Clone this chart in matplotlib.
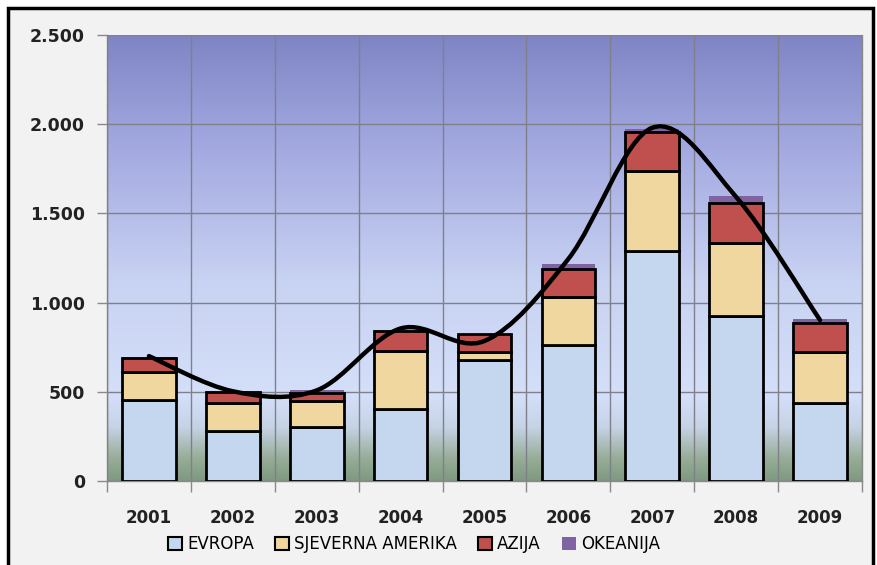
import numpy as np
import matplotlib
matplotlib.use('Agg')
import matplotlib.pyplot as plt
from matplotlib.patches import Rectangle, PathPatch
from matplotlib.path import Path
from matplotlib.colors import LinearSegmentedColormap
from matplotlib.ticker import FuncFormatter, MultipleLocator, FixedLocator

years = ['2001', '2002', '2003', '2004', '2005', '2006', '2007', '2008', '2009']
evropa = [455, 280, 303, 404, 678, 762, 1289, 925, 437]
sjeverna_amerika = [158, 157, 145, 325, 45, 269, 449, 409, 286]
azija = [77, 62, 45, 112, 101, 157, 218, 224, 163]
okeanija = [5, 6, 17, 6, -10, 28, 17, 40, 22]
trend = [700, 503, 508, 855, 785, 1245, 1980, 1592, 902]

series_names = ['EVROPA', 'SJEVERNA AMERIKA', 'AZIJA', 'OKEANIJA']
colors = ['#c5d6ef', '#f0d79f', '#c0504d', '#8064a2']

fig = plt.figure(figsize=(8.77, 5.65), dpi=100)
fig.patch.set_facecolor('white')

# outer frame of the pasted chart
frame = Rectangle((8/877, -0.01), 865/877, 1 - 8/565 + 0.01, transform=fig.transFigure,
                  facecolor='#f2f2f2', edgecolor='black', linewidth=2.5, zorder=-10)
fig.patches.append(frame)

ax = fig.add_axes([107/877, 1 - 481/565, 755/877, 446/565])
x = np.arange(len(years))

# background gradient: blue-purple at top, light, then greenish at the bottom
grad = LinearSegmentedColormap.from_list('bg', [
    (0.0, '#7f9a80'),
    (0.05, '#97ad98'),
    (0.12, '#c6d3e6'),
    (0.19, '#d4dff9'),
    (0.45, '#c8d2f2'),
    (0.75, '#a3a9e0'),
    (1.0, '#7f85c4')])
ax.imshow(np.linspace(0, 1, 256).reshape(-1, 1), cmap=grad, aspect='auto',
          extent=[-0.5, 8.5, 0, 2500], origin='lower', zorder=0)

w = 0.64
ev = np.array(evropa)
sa = np.array(sjeverna_amerika)
az = np.array(azija)
ok = np.array(okeanija)

ax.bar(x, ev, w, color=colors[0], edgecolor='black', linewidth=2, zorder=3, label=series_names[0])
ax.bar(x, sa, w, bottom=ev, color=colors[1], edgecolor='black', linewidth=2, zorder=3, label=series_names[1])
ax.bar(x, az, w, bottom=ev + sa, color=colors[2], edgecolor='black', linewidth=2, zorder=3, label=series_names[2])
ok_bottom = np.where(ok >= 0, ev + sa + az, 0)
ax.bar(x, ok, w, bottom=ok_bottom, color=colors[3], edgecolor='none', zorder=2.9, label=series_names[3])

# smoothed trend line (Catmull-Rom as cubic bezier segments)
pts = np.column_stack([x, trend]).astype(float)
ext = np.vstack([pts[0], pts, pts[-1]])
verts = [tuple(pts[0])]
codes = [Path.MOVETO]
for i in range(len(pts) - 1):
    p0, p1, p2, p3 = ext[i], ext[i + 1], ext[i + 2], ext[i + 3]
    c1 = p1 + (p2 - p0) / 6
    c2 = p2 - (p3 - p1) / 6
    verts += [tuple(c1), tuple(c2), tuple(p2)]
    codes += [Path.CURVE4] * 3
ax.add_patch(PathPatch(Path(verts, codes), facecolor='none', edgecolor='black',
                       linewidth=3.2, zorder=5, capstyle='round'))

ax.set_xlim(-0.5, 8.5)
ax.set_ylim(0, 2500)
ax.set_xticks(x)
ax.set_xticklabels(years)
ax.xaxis.set_minor_locator(FixedLocator(np.arange(-0.5, 9, 1)))
ax.yaxis.set_major_locator(MultipleLocator(500))
ax.yaxis.set_major_formatter(FuncFormatter(lambda v, p: f'{int(v):,}'.replace(',', '.')))

ax.grid(True, which='minor', axis='x', color='#80808a', linewidth=1, zorder=1)
ax.grid(True, which='major', axis='y', color='#80808a', linewidth=1, zorder=1)
ax.set_axisbelow(False)
for l in ax.get_xgridlines() + ax.get_ygridlines():
    l.set_zorder(1)

ax.tick_params(axis='x', which='major', length=0, pad=20, labelsize=12, labelcolor='#222222')
ax.tick_params(axis='x', which='minor', length=8, color='#8a8a8a', width=1)
ax.tick_params(axis='y', length=7, color='#8a8a8a', width=1, labelsize=12.5, labelcolor='#222222', pad=9)
for lab in ax.get_xticklabels() + ax.get_yticklabels():
    lab.set_fontweight('bold')

for s in ['top']:
    ax.spines[s].set_visible(False)
for s in ['left', 'right', 'bottom']:
    ax.spines[s].set_color('#8a8a8a')
    ax.spines[s].set_linewidth(1)

handles, labels = ax.get_legend_handles_labels()
leg = fig.legend(handles, labels, loc='center', bbox_to_anchor=(414/877, 1 - 544/565), ncol=4,
                 frameon=False, handlelength=0.85, handleheight=0.85, handletextpad=0.3,
                 columnspacing=1.25, prop={'family': ['DejaVu Sans Condensed', 'DejaVu Sans'], 'size': 12})
for h in leg.legend_handles:
    h.set_linewidth(1.5)

fig.savefig('out.png', dpi=100, facecolor=fig.get_facecolor())
